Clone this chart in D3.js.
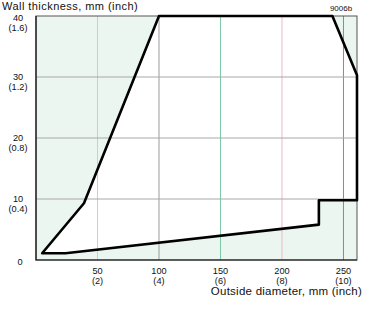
<!DOCTYPE html>
<html>
	<head>
		<meta http-equiv="Content-Type" content="text/html;charset=utf-8"/>
		<title>Wall thickness</title>
		<script src="https://d3js.org/d3.v7.min.js"></script>
		<style type="text/css">
			body { margin: 0; background: #fff; }
			text { font-family: "Liberation Sans", Arial, sans-serif; fill: #111; }
		</style>
	</head>
	<body>
		<script type="text/javascript">

			//Outline of the working range, [outside diameter mm, wall thickness mm]
			var outlineX = [5, 39, 100, 241, 261, 261, 230, 230, 24];
			var outlineY = [1.1, 9.3, 40, 40, 30.3, 9.8, 9.8, 5.8, 1.1];

			//Tick values and labels
			var xTicks = [50, 100, 150, 200, 250];
			var xInch = ["(2)", "(4)", "(6)", "(8)", "(10)"];
			var yTicks = [0, 10, 20, 30, 40];
			var yInch = ["", "(0.4)", "(0.8)", "(1.2)", "(1.6)"];
			var xGridColors = ["#b9d9c6", "#9a9a9a", "#7ccaa6", "#eab9c8", "#8a8a8a"];

			var w = 373,
				h = 309;

			var x = d3.scaleLinear().domain([0, 261]).range([36, 357]);
			var y = d3.scaleLinear().domain([0, 40]).range([260, 16]);

			var svg = d3.select("body").append("svg")
						.attr("width", w)
						.attr("height", h);

			//Shaded plot area, the outline is cut out of it in white
			svg.append("rect")
				.attr("x", x(0))
				.attr("y", y(40))
				.attr("width", x(261) - x(0))
				.attr("height", y(0) - y(40))
				.attr("fill", "#ecf6f0");

			var pts = outlineX.map(function(d, i) { return [x(d), y(outlineY[i])]; });

			svg.append("polygon")
				.attr("points", pts.join(" "))
				.attr("fill", "#fff");

			//Grid
			svg.selectAll("line.xgrid")
				.data(xTicks)
				.enter()
				.append("line")
				.attr("class", "xgrid")
				.attr("x1", function(d) { return x(d); })
				.attr("x2", function(d) { return x(d); })
				.attr("y1", y(40))
				.attr("y2", y(0))
				.attr("stroke", function(d, i) { return xGridColors[i]; })
				.attr("stroke-width", 1);

			svg.selectAll("line.ygrid")
				.data(yTicks.slice(1, 4))
				.enter()
				.append("line")
				.attr("class", "ygrid")
				.attr("x1", x(0))
				.attr("x2", x(261))
				.attr("y1", function(d) { return y(d); })
				.attr("y2", function(d) { return y(d); })
				.attr("stroke", "#a8a8a8")
				.attr("stroke-width", 1);

			//Frame
			svg.append("rect")
				.attr("x", x(0))
				.attr("y", y(40))
				.attr("width", x(261) - x(0))
				.attr("height", y(0) - y(40))
				.attr("fill", "none")
				.attr("stroke", "#555")
				.attr("stroke-width", 1);

			svg.append("path")
				.attr("d", "M" + x(0) + "," + y(40) + "V" + y(0) + "H" + x(261))
				.attr("fill", "none")
				.attr("stroke", "#111")
				.attr("stroke-width", 1.2);

			//Outline
			svg.append("polygon")
				.attr("points", pts.join(" "))
				.attr("fill", "none")
				.attr("stroke", "#000")
				.attr("stroke-width", 2.6)
				.attr("stroke-linejoin", "round");

			//Y tick labels, mm over inch
			var yl = svg.selectAll("text.ylab")
				.data(yTicks)
				.enter()
				.append("text")
				.attr("class", "ylab")
				.attr("text-anchor", "middle")
				.attr("font-size", 9.2)
				.attr("y", function(d) {
					if (d === 0) return y(d) + 5;
					if (d === 40) return y(d) + 4.8;   //keep clear of the title
					return y(d) + 2.5;
				});

			yl.append("tspan")
				.attr("x", function(d) { return d === 0 ? 20 : 18; })
				.text(function(d) { return d; });

			yl.append("tspan")
				.attr("x", 18)
				.attr("dy", 10.3)
				.text(function(d, i) { return yInch[i]; });

			//X tick labels
			var xl = svg.selectAll("text.xlab")
				.data(xTicks)
				.enter()
				.append("text")
				.attr("class", "xlab")
				.attr("text-anchor", "middle")
				.attr("font-size", 9.2)
				.attr("y", 273.5);

			xl.append("tspan")
				.attr("x", function(d) { return x(d); })
				.text(function(d) { return d; });

			xl.append("tspan")
				.attr("x", function(d) { return x(d); })
				.attr("dy", 10.3)
				.text(function(d, i) { return xInch[i]; });

			//Titles
			svg.append("text")
				.attr("x", 2)
				.attr("y", 10)
				.attr("font-size", 11)
				.attr("letter-spacing", 0.45)
				.text("Wall thickness, mm (inch)");

			svg.append("text")
				.attr("x", 362)
				.attr("y", 295)
				.attr("text-anchor", "end")
				.attr("font-size", 11.5)
				.attr("letter-spacing", 0.25)
				.text("Outside diameter, mm (inch)");

			svg.append("text")
				.attr("x", 341)
				.attr("y", 10.5)
				.attr("text-anchor", "middle")
				.attr("font-size", 8)
				.text("9006b");

		</script>
	</body>
</html>
